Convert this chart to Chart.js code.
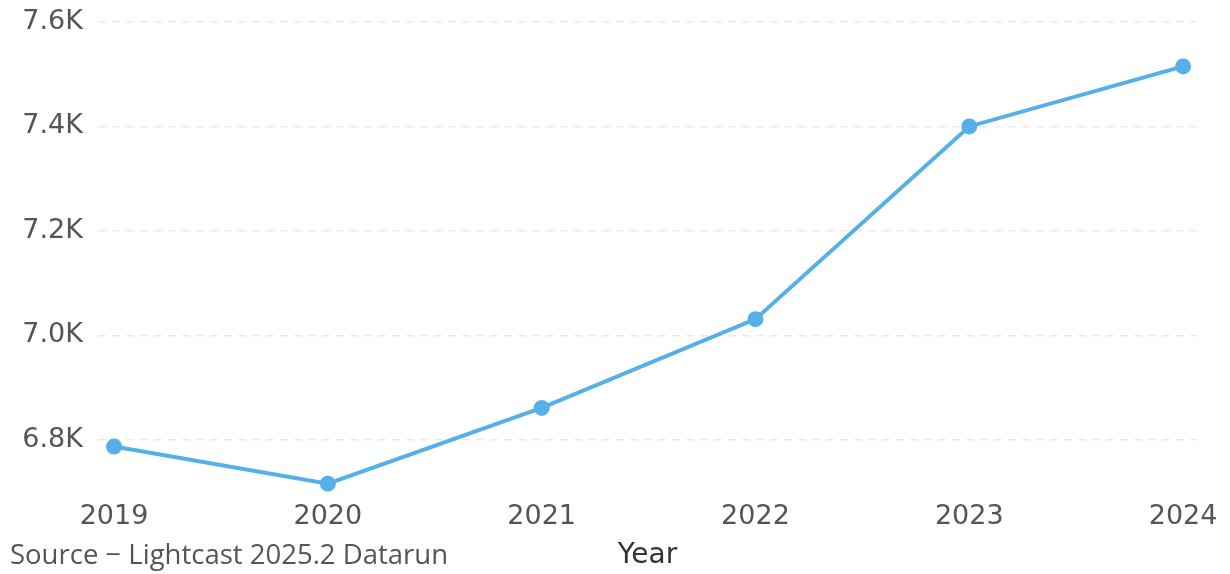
<!DOCTYPE html>
<html>
<head>
<meta charset="utf-8">
<script src="https://cdn.jsdelivr.net/npm/chart.js@4/dist/chart.umd.min.js"></script>
<style>
  html, body { margin: 0; padding: 0; background: #fff; }
  #wrap { position: relative; width: 1230px; height: 574px; }
</style>
</head>
<body>
<div id="wrap"><canvas id="trend-chart"></canvas></div>
<script>
var years = [2019, 2020, 2021, 2022, 2023, 2024];
var jobCounts = [6787, 6716, 6861, 7031, 7400, 7515];
var yTickValues = [6800, 7000, 7200, 7400, 7600];
var sourceNote = "Source \u2212 Lightcast 2025.2 Datarun";

var sourcePlugin = {
  id: "sourceNote",
  afterDraw: function(chart) {
    var ctx = chart.ctx;
    ctx.save();
    ctx.font = "27.5px 'Open Sans'";
    ctx.fillStyle = "#555555";
    ctx.textBaseline = "middle";
    ctx.textAlign = "left";
    ctx.fillText(sourceNote, 10, 556);
    ctx.restore();
  }
};

var ctx = document.getElementById("trend-chart").getContext("2d");
var trendChart = new Chart(ctx, {
  type: "line",
  data: {
    datasets: [{
      data: years.map(function(y, i) { return { x: y, y: jobCounts[i] }; }),
      borderColor: "#56b0e8",
      backgroundColor: "#56b0e8",
      borderWidth: 4,
      pointRadius: 6,
      pointHoverRadius: 6,
      tension: 0
    }]
  },
  options: {
    responsive: true,
    maintainAspectRatio: false,
    animation: false,
    layout: {
      padding: { top: 22, right: 33, left: 0, bottom: 0 }
    },
    scales: {
      x: {
        type: "linear",
        min: years[0] - 0.075,
        max: years[years.length - 1] + 0.065,
        afterBuildTicks: function(scale) {
          scale.ticks = years.map(function(v) { return { value: v }; });
        },
        afterFit: function(scale) {
          scale.height = 82;
        },
        grid: { display: false },
        border: { display: false },
        ticks: {
          padding: 1,
          font: { family: "DejaVu Sans", size: 27 },
          color: "#555555",
          callback: function(v) { return String(v); }
        },
        title: {
          display: true,
          text: "Year",
          font: { family: "DejaVu Sans", size: 28 },
          color: "#333333",
          padding: { top: 0, bottom: 1 }
        }
      },
      y: {
        min: 6700,
        max: 7600,
        afterBuildTicks: function(scale) {
          scale.ticks = yTickValues.map(function(v) { return { value: v }; });
        },
        afterFit: function(scale) {
          scale.width = 98;
          scale.paddingTop = 0;
          scale.paddingBottom = 0;
        },
        grid: {
          color: "#ebebe6",
          lineWidth: 1.5,
          drawTicks: false
        },
        border: { display: false, dash: [8, 6] },
        ticks: {
          padding: 15,
          font: { family: "DejaVu Sans", size: 27 },
          color: "#555555",
          callback: function(v) { return (v / 1000).toFixed(1) + "K"; }
        }
      }
    },
    plugins: {
      legend: { display: false },
      tooltip: { enabled: false }
    }
  },
  plugins: [sourcePlugin]
});
</script>
</body>
</html>
